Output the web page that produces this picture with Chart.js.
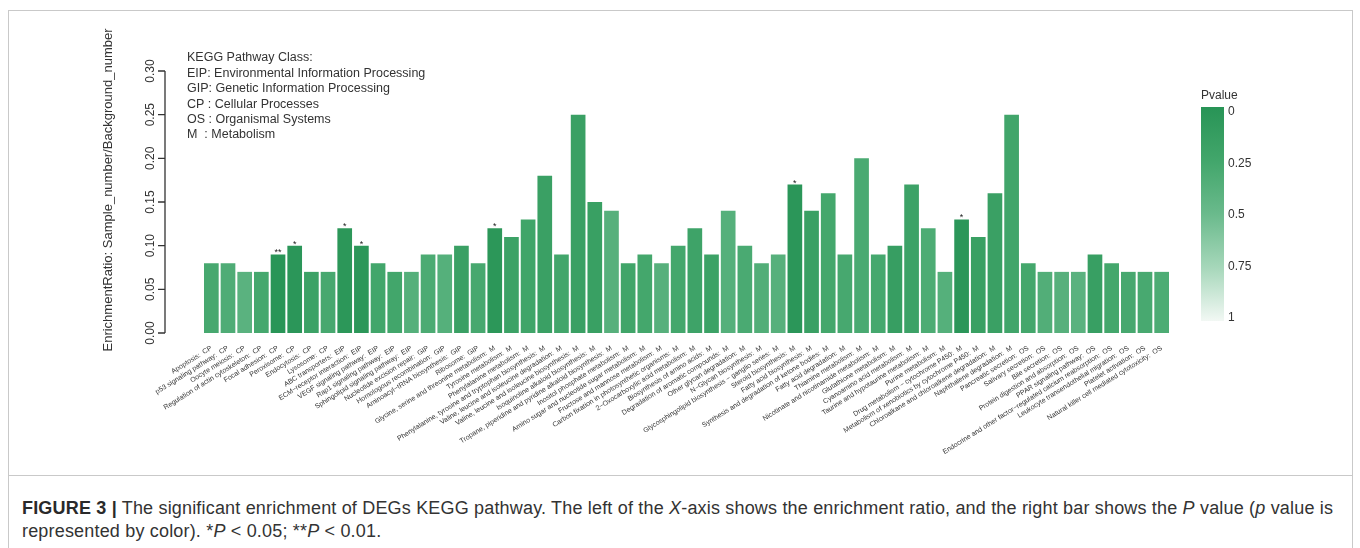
<!DOCTYPE html>
<html>
<head>
<meta charset="utf-8">
<title>KEGG pathway enrichment</title>
<script src="https://cdn.jsdelivr.net/npm/chart.js@4.4.0/dist/chart.umd.min.js"></script>
<style>
  html, body { margin: 0; padding: 0; background: #fff; }
  #frame { position: absolute; left: 8px; top: 10px; width: 1343px; height: 560px; border: 1px solid #c9c9c9; }
  #plot { position: absolute; left: 0; top: 0; }
  #divider { position: absolute; left: 8px; top: 475px; width: 1344px; height: 1px; background: #c9c9c9; }
  #caption { position: absolute; left: 22px; top: 497px; width: 1330px; white-space: nowrap; letter-spacing: 0.18px;
    font-family: "Liberation Sans", Arial, sans-serif; font-size: 18px; line-height: 23px; color: #333; }
  #caption b { color: #2a2a2a; }
</style>
</head>
<body>
<div id="frame"></div>
<canvas id="plot" width="1360" height="470"></canvas>
<div id="divider"></div>
<div id="caption"><b>FIGURE 3 |</b> The significant enrichment of DEGs KEGG pathway. The left of the <i>X</i>-axis shows the enrichment ratio, and the right bar shows the <i>P</i> value (<i>p</i> value is<br>represented by color). *<i>P</i> &lt; 0.05; **<i>P</i> &lt; 0.01.</div>
<script>
// Pathway names and their KEGG class
const pathways = [
  "Apoptosis", "p53 signaling pathway", "Oocyte meiosis", "Regulation of actin cytoskeleton",
  "Focal adhesion", "Peroxisome", "Endocytosis", "Lysosome",
  "ABC transporters", "ECM\u2212receptor interaction", "VEGF signaling pathway", "Rap1 signaling pathway",
  "Sphingolipid signaling pathway",
  "Nucleotide excision repair", "Homologous recombination", "Aminoacyl\u2212tRNA biosynthesis", "Ribosome",
  "Glycine, serine and threonine metabolism", "Tyrosine metabolism", "Phenylalanine metabolism",
  "Phenylalanine, tyrosine and tryptophan biosynthesis", "Valine, leucine and isoleucine degradation",
  "Valine, leucine and isoleucine biosynthesis", "Isoquinoline alkaloid biosynthesis",
  "Tropane, piperidine and pyridine alkaloid biosynthesis", "Inositol phosphate metabolism",
  "Amino sugar and nucleotide sugar metabolism", "Fructose and mannose metabolism",
  "Carbon fixation in photosynthetic organisms", "2\u2212Oxocarboxylic acid metabolism",
  "Biosynthesis of amino acids", "Degradation of aromatic compounds", "Other glycan degradation",
  "N\u2212Glycan biosynthesis", "Glycosphingolipid biosynthesis \u2212 ganglio series", "Steroid biosynthesis",
  "Fatty acid biosynthesis", "Synthesis and degradation of ketone bodies", "Fatty acid degradation",
  "Thiamine metabolism", "Nicotinate and nicotinamide metabolism", "Glutathione metabolism",
  "Cyanoamino acid metabolism", "Taurine and hypotaurine metabolism", "Purine metabolism",
  "Drug metabolism \u2212 cytochrome P450", "Metabolism of xenobiotics by cytochrome P450",
  "Chloroalkane and chloroalkene degradation", "Naphthalene degradation",
  "Pancreatic secretion", "Salivary secretion", "Bile secretion", "Protein digestion and absorption",
  "PPAR signaling pathway", "Endocrine and other factor\u2212regulated calcium reabsorption",
  "Leukocyte transendothelial migration", "Platelet activation", "Natural killer cell mediated cytotoxicity"
];
const pathwayClass = [
  "CP","CP","CP","CP","CP","CP","CP","CP",
  "EIP","EIP","EIP","EIP","EIP",
  "GIP","GIP","GIP","GIP",
  "M","M","M","M","M","M","M","M","M","M","M","M","M","M","M","M",
  "M","M","M","M","M","M","M","M","M","M","M","M","M","M","M","M",
  "OS","OS","OS","OS","OS","OS","OS","OS","OS"
];
// Sample_number / Background_number
const enrichmentRatio = [
  0.08, 0.08, 0.07, 0.07, 0.09, 0.10, 0.07, 0.07,
  0.12, 0.10, 0.08, 0.07, 0.07,
  0.09, 0.09, 0.10, 0.08,
  0.12, 0.11, 0.13, 0.18, 0.09, 0.25, 0.15, 0.14, 0.08, 0.09, 0.08, 0.10, 0.12, 0.09, 0.14,
  0.10, 0.08, 0.09, 0.17, 0.14, 0.16, 0.09, 0.20, 0.09, 0.10, 0.17, 0.12, 0.07, 0.13, 0.11, 0.16, 0.25,
  0.08, 0.07, 0.07, 0.07, 0.09, 0.08, 0.07, 0.07, 0.07
];
const pValue = [
  0.28, 0.33, 0.40, 0.27, 0.008, 0.03, 0.19, 0.28,
  0.04, 0.04, 0.25, 0.25, 0.37,
  0.31, 0.37, 0.17, 0.28,
  0.04, 0.19, 0.23, 0.17, 0.25, 0.17, 0.16, 0.38, 0.23, 0.26, 0.38, 0.26, 0.21, 0.19, 0.37,
  0.30, 0.35, 0.38, 0.03, 0.17, 0.26, 0.28, 0.30, 0.27, 0.14, 0.20, 0.32, 0.37, 0.03, 0.16, 0.17, 0.24,
  0.26, 0.35, 0.38, 0.40, 0.15, 0.26, 0.28, 0.29, 0.32
];
const significance = pValue.map(p => p < 0.01 ? "**" : (p < 0.05 ? "*" : ""));
const yTicks = [0.00, 0.05, 0.10, 0.15, 0.20, 0.25, 0.30];
const colorbarTicks = [0, 0.25, 0.5, 0.75, 1];
const classKey = [
  "KEGG Pathway Class:",
  "EIP: Environmental Information Processing",
  "GIP: Genetic Information Processing",
  "CP : Cellular Processes",
  "OS : Organismal Systems",
  "M  : Metabolism"
];

const labels = pathways.map((n, i) => n + ":  " + pathwayClass[i]);

// P value colour ramp, dark green at 0 to near white at 1
const rampStops = [
  [0.00, [40, 148, 86]],
  [0.25, [66, 166, 107]],
  [0.50, [106, 186, 140]],
  [0.75, [166, 215, 186]],
  [1.00, [242, 248, 244]]
];
function pColor(p) {
  for (let k = 0; k < rampStops.length - 1; k++) {
    const [a, ca] = rampStops[k], [b, cb] = rampStops[k + 1];
    if (p <= b) {
      const t = (p - a) / (b - a);
      const c = ca.map((v, j) => Math.round(v + (cb[j] - v) * t));
      return `rgb(${c[0]},${c[1]},${c[2]})`;
    }
  }
  const c = rampStops[rampStops.length - 1][1];
  return `rgb(${c[0]},${c[1]},${c[2]})`;
}

const FONT = '"Liberation Sans", Arial, Helvetica, sans-serif';

const decorations = {
  id: 'decorations',
  afterDraw(chart) {
    const ctx = chart.ctx;
    const y = chart.scales.y;
    ctx.save();

    // y axis in base-graphics style, set apart from the bars
    const axisX = 165;
    ctx.strokeStyle = '#333';
    ctx.lineWidth = 1.3;
    ctx.beginPath();
    ctx.moveTo(axisX, y.getPixelForValue(yTicks[0]));
    ctx.lineTo(axisX, y.getPixelForValue(yTicks[yTicks.length - 1]));
    yTicks.forEach(t => {
      const py = y.getPixelForValue(t);
      ctx.moveTo(axisX - 7, py);
      ctx.lineTo(axisX, py);
    });
    ctx.stroke();

    ctx.fillStyle = '#333';
    ctx.font = '12px ' + FONT;
    ctx.textAlign = 'center';
    ctx.textBaseline = 'middle';
    yTicks.forEach(t => {
      const py = y.getPixelForValue(t);
      ctx.save();
      ctx.translate(151, py);
      ctx.rotate(-Math.PI / 2);
      ctx.fillText(t.toFixed(2), 0, 0);
      ctx.restore();
    });

    ctx.save();
    ctx.font = '13px ' + FONT;
    ctx.translate(108, 190);
    ctx.rotate(-Math.PI / 2);
    ctx.fillText('EnrichmentRatio: Sample_number/Background_number', 0, 0);
    ctx.restore();

    // significance marks above bars
    const meta = chart.getDatasetMeta(0);
    ctx.font = '9px ' + FONT;
    ctx.textBaseline = 'alphabetic';
    ctx.fillStyle = '#222';
    meta.data.forEach((bar, i) => {
      if (significance[i]) ctx.fillText(significance[i], bar.x, bar.y + 1);
    });

    // class key
    ctx.textAlign = 'left';
    ctx.textBaseline = 'middle';
    ctx.font = '12.5px ' + FONT;
    ctx.fillStyle = '#333';
    classKey.forEach((line, k) => ctx.fillText(line, 187, 58 + k * 15.4));

    // colour bar for P value
    const cbX = 1201, cbW = 23, cbTop = 107, cbBot = 321;
    const grad = ctx.createLinearGradient(0, cbTop, 0, cbBot);
    colorbarTicks.forEach(t => grad.addColorStop(t, pColor(t)));
    ctx.fillStyle = grad;
    ctx.fillRect(cbX, cbTop, cbW, cbBot - cbTop);
    ctx.fillStyle = '#333';
    ctx.font = '12px ' + FONT;
    ctx.fillText('Pvalue', 1201, 96);
    colorbarTicks.forEach(t => {
      const py = 112 + t * (318 - 112);
      ctx.fillText(String(t), 1228, py);
    });

    ctx.restore();
  }
};

new Chart(document.getElementById('plot'), {
  type: 'bar',
  data: {
    labels: labels,
    datasets: [{
      data: enrichmentRatio,
      backgroundColor: pValue.map(pColor),
      borderWidth: 0,
      barPercentage: 0.88,
      categoryPercentage: 1.0
    }]
  },
  options: {
    responsive: false,
    animation: false,
    events: [],
    layout: { padding: { left: 203, right: 190, top: 71, bottom: 7 } },
    plugins: { legend: { display: false }, tooltip: { enabled: false } },
    scales: {
      x: {
        grid: { display: false },
        border: { display: false },
        ticks: {
          autoSkip: false,
          minRotation: 32,
          maxRotation: 32,
          padding: 3,
          color: '#333',
          font: { size: 7, family: FONT }
        },
        afterFit(scale) {
          scale.paddingLeft = 0;
          scale.paddingRight = 0;
          scale.height = 130;
        }
      },
      y: { display: false, min: 0, max: 0.30 }
    }
  },
  plugins: [decorations]
});
</script>
</body>
</html>
